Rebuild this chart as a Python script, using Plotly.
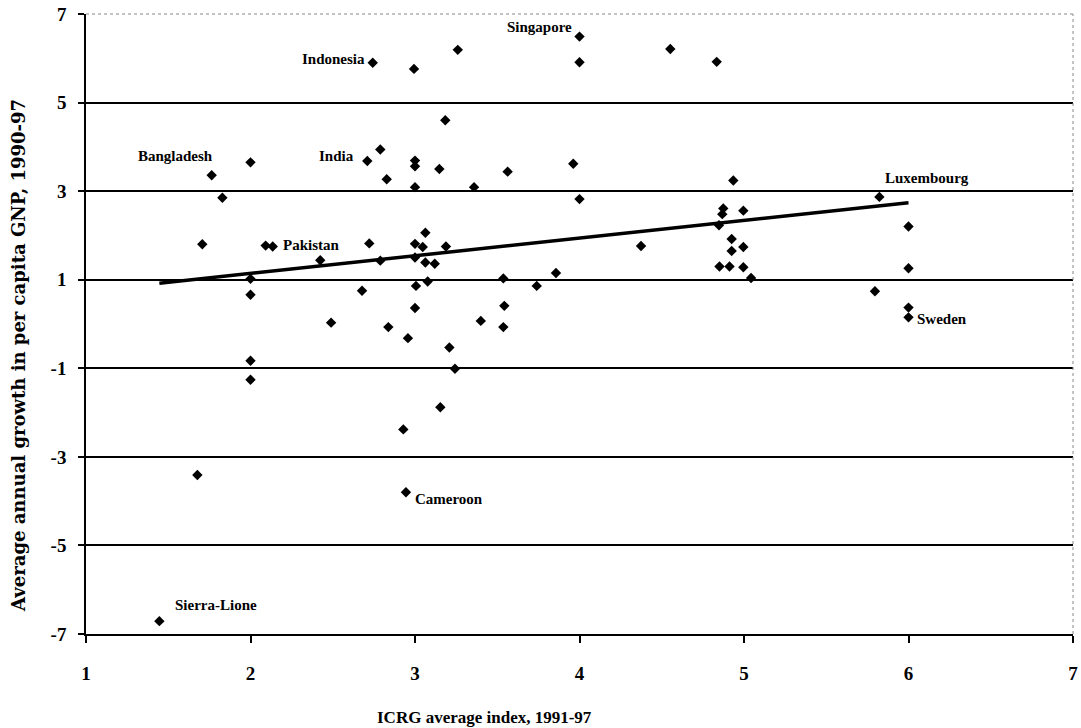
import plotly.graph_objects as go

# ICRG average index, 1991-97
icrg = [2.743, 2.994, 3.26, 4.0, 4.0, 3.184, 2.789, 2.71, 3.0, 3.0,
        3.148, 2.828, 3.0, 3.359, 3.563, 3.962, 4.0, 2.0, 1.764, 1.829,
        1.707, 2.092, 2.135, 2.722, 3.063, 3.0, 3.047, 3.188, 2.424, 2.789,
        3.0, 3.063, 3.12, 2.0, 2.0, 2.678, 3.006, 3.0, 3.077, 3.537,
        3.543, 3.74, 3.857, 2.49, 2.838, 2.957, 3.209, 3.243, 3.4, 3.537,
        2.0, 2.0, 3.154, 2.929, 1.677, 2.945, 1.446,
        4.552, 4.834, 4.935, 5.823, 4.874, 4.868, 4.996, 4.848, 6.0,
        4.374, 4.925, 4.925, 4.996, 4.851, 4.912, 4.996, 5.043, 6.0,
        5.796, 6.0, 6.0]
# Average annual growth in per capita GNP, 1990-97
growth = [5.90, 5.76, 6.19, 6.49, 5.91, 4.60, 3.94, 3.68, 3.69, 3.56,
          3.50, 3.27, 3.09, 3.09, 3.44, 3.62, 2.82, 3.65, 3.36, 2.85,
          1.80, 1.77, 1.75, 1.82, 2.06, 1.81, 1.74, 1.75, 1.44, 1.43,
          1.50, 1.39, 1.36, 1.02, 0.66, 0.75, 0.86, 0.36, 0.96, 1.03,
          0.41, 0.86, 1.15, 0.03, -0.07, -0.32, -0.53, -1.01, 0.07, -0.07,
          -0.83, -1.26, -1.88, -2.38, -3.41, -3.80, -6.71,
          6.21, 5.92, 3.24, 2.87, 2.61, 2.48, 2.56, 2.23, 2.20,
          1.76, 1.92, 1.65, 1.74, 1.30, 1.30, 1.28, 1.04, 1.26,
          0.74, 0.37, 0.15]
# country labels: point index -> name
label_points = [3, 0, 18, 7, 22, 60, 77, 55, 56]
label_names = ["Singapore", "Indonesia", "Bangladesh", "India", "Pakistan",
               "Luxembourg", "Sweden", "Cameroon", "Sierra-Lione"]
# fitted trend line
trend_x = [min(icrg), max(icrg)]
trend_y = [0.92, 2.74]

x_ticks = [1, 2, 3, 4, 5, 6, 7]
y_ticks = [-7, -5, -3, -1, 1, 3, 5, 7]
y_tick_labels = ["-7", "-5", "-3", "-1", "1", "3", "5", "7"]

SERIF = "Liberation Serif"

# label styling (anchor, xshift, yshift) per label
label_style = {
    "Singapore": ("right", -6, 10),
    "Indonesia": ("right", -6, 4),
    "Bangladesh": ("right", 3, 19),
    "India": ("right", -11, 5),
    "Pakistan": ("left", 8, 2),
    "Luxembourg": ("left", 4, 19),
    "Sweden": ("left", 6, -2),
    "Cameroon": ("left", 7, -7),
    "Sierra-Lione": ("left", 14, 16),
}

fig = go.Figure()
fig.add_trace(go.Scatter(x=icrg, y=growth, mode="markers",
                         marker=dict(symbol="diamond", size=8, color="black"),
                         showlegend=False))
fig.add_trace(go.Scatter(x=trend_x, y=trend_y, mode="lines",
                         line=dict(color="black", width=3.5),
                         showlegend=False))

annotations = []
for idx, name in zip(label_points, label_names):
    anchor, xs, ys = label_style[name]
    annotations.append(dict(x=icrg[idx], y=growth[idx], xref="x", yref="y",
                            text=name, showarrow=False, xanchor=anchor,
                            yanchor="middle", xshift=xs, yshift=ys,
                            font=dict(family=SERIF, size=15, color="black",
                                      weight="bold")))
annotations.append(dict(x=0.404, y=-0.135, xref="paper", yref="paper",
                        text="ICRG average index, 1991-97", showarrow=False,
                        xanchor="center", yanchor="middle",
                        font=dict(family=SERIF, size=17, color="black",
                                  weight="bold")))
annotations.append(dict(x=-0.069, y=0.45, xref="paper", yref="paper",
                        text="Average annual growth in per capita GNP, 1990-97",
                        showarrow=False, textangle=-90,
                        xanchor="center", yanchor="middle",
                        font=dict(family="DejaVu Serif", size=18, color="black",
                                  weight="bold")))

shapes = [
    dict(type="line", xref="paper", yref="paper", x0=0, x1=1, y0=1, y1=1,
         line=dict(color="#888888", width=1, dash="dot")),
    dict(type="line", xref="paper", yref="paper", x0=1, x1=1, y0=0, y1=1,
         line=dict(color="#888888", width=1, dash="dot")),
]

fig.update_layout(
    width=1081, height=728,
    margin=dict(l=86, r=8, t=14, b=94, autoexpand=False),
    paper_bgcolor="white", plot_bgcolor="white",
    annotations=annotations, shapes=shapes,
    font=dict(family=SERIF, color="black"),
)
fig.update_xaxes(range=[1, 7], tickvals=x_ticks, showgrid=False, automargin=False,
                 zeroline=False, showline=True, linecolor="black", linewidth=1.5,
                 ticks="outside", ticklen=7, tickcolor="black", tickwidth=1.5,
                 ticklabelstandoff=14,
                 tickfont=dict(family=SERIF, size=19, color="black", weight="bold"))
fig.update_yaxes(range=[-7, 7], tickvals=y_ticks, ticktext=y_tick_labels,
                 showgrid=True, automargin=False,
                 gridcolor="black", gridwidth=1.5, zeroline=False,
                 showline=True, linecolor="black", linewidth=1.5,
                 ticks="outside", ticklen=6, tickcolor="black", tickwidth=1.5,
                 ticklabelstandoff=8,
                 tickfont=dict(family=SERIF, size=19, color="black", weight="bold"))

# remove the default page margin so the figure fills the window exactly
fig.write_html("out.html",
               config={"displayModeBar": False},
               post_script="document.body.style.margin='0';"
                           "document.body.style.overflow='hidden';")
